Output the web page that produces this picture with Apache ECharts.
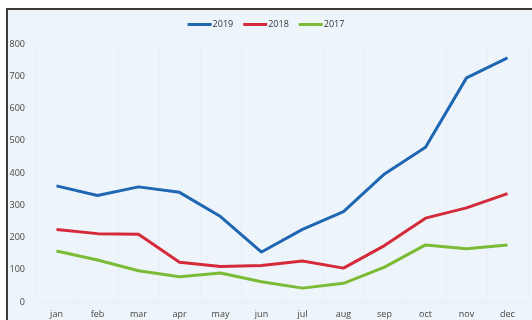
<!DOCTYPE html>
<html>
<head>
<meta charset="utf-8">
<script src="https://cdn.jsdelivr.net/npm/echarts@6/dist/echarts.min.js"></script>
<style>
  html, body { margin: 0; padding: 0; background: #fff; }
  #wrap { position: relative; width: 532px; height: 320px; overflow: hidden; }
  #frame {
    position: absolute; left: 6px; top: 8px; right: 0; bottom: 0;
    border-left: 2px solid #3a3a3a; border-top: 2px solid #3a3a3a;
    background: #eef5fa;
  }
  #chart { position: absolute; left: 0; top: 0; width: 532px; height: 320px; }
</style>
</head>
<body>
<div id="wrap">
  <div id="frame"></div>
  <div id="chart"></div>
</div>
<script>
// categories and values
const months = ["jan", "feb", "mar", "apr", "may", "jun", "jul", "aug", "sep", "oct", "nov", "dec"];
const y2019 = [360, 330, 357, 340, 265, 155, 225, 280, 397, 480, 695, 757];
const y2018 = [225, 212, 210, 123, 110, 113, 127, 105, 175, 260, 292, 336];
const y2017 = [158, 130, 97, 78, 90, 63, 43, 58, 108, 177, 165, 177];
const yTicks = [0, 800, 100]; // min, max, interval

let myChart = echarts.init(document.getElementById("chart"));

function line(name, data, color) {
  return {
    name: name,
    type: "line",
    data: data,
    showSymbol: false,
    symbol: "none",
    lineStyle: { width: 3, color: color },
    itemStyle: { color: color },
  };
}

let option = {
  backgroundColor: "transparent",
  textStyle: { fontFamily: "Open Sans" },
  legend: {
    top: 15,
    left: "center",
    icon: "rect",
    itemWidth: 24,
    itemHeight: 3,
    itemGap: 10,
    textStyle: { fontSize: 9, color: "#333", padding: [0, 0, 0, -4] },
  },
  grid: { left: 36, right: 4, top: 44, bottom: 18 },
  xAxis: {
    type: "category",
    data: months,
    boundaryGap: true,
    axisLine: { show: true, lineStyle: { color: "#e6eef5" } },
    axisTick: { show: false },
    axisLabel: { fontSize: 9, color: "#444", margin: 8 },
    splitLine: { show: true, lineStyle: { color: "#e8f0f6", width: 1 } },
  },
  yAxis: {
    type: "value",
    min: yTicks[0],
    max: yTicks[1],
    interval: yTicks[2],
    axisLine: { show: false },
    axisTick: { show: false },
    axisLabel: { fontSize: 9, color: "#444", margin: 11 },
    splitLine: { show: false },
  },
  series: [
    line("2019", y2019, "#1f67b3"),
    line("2018", y2018, "#d42a3a"),
    line("2017", y2017, "#7bbb35"),
  ],
};

option && myChart.setOption(option);
</script>
</body>
</html>
